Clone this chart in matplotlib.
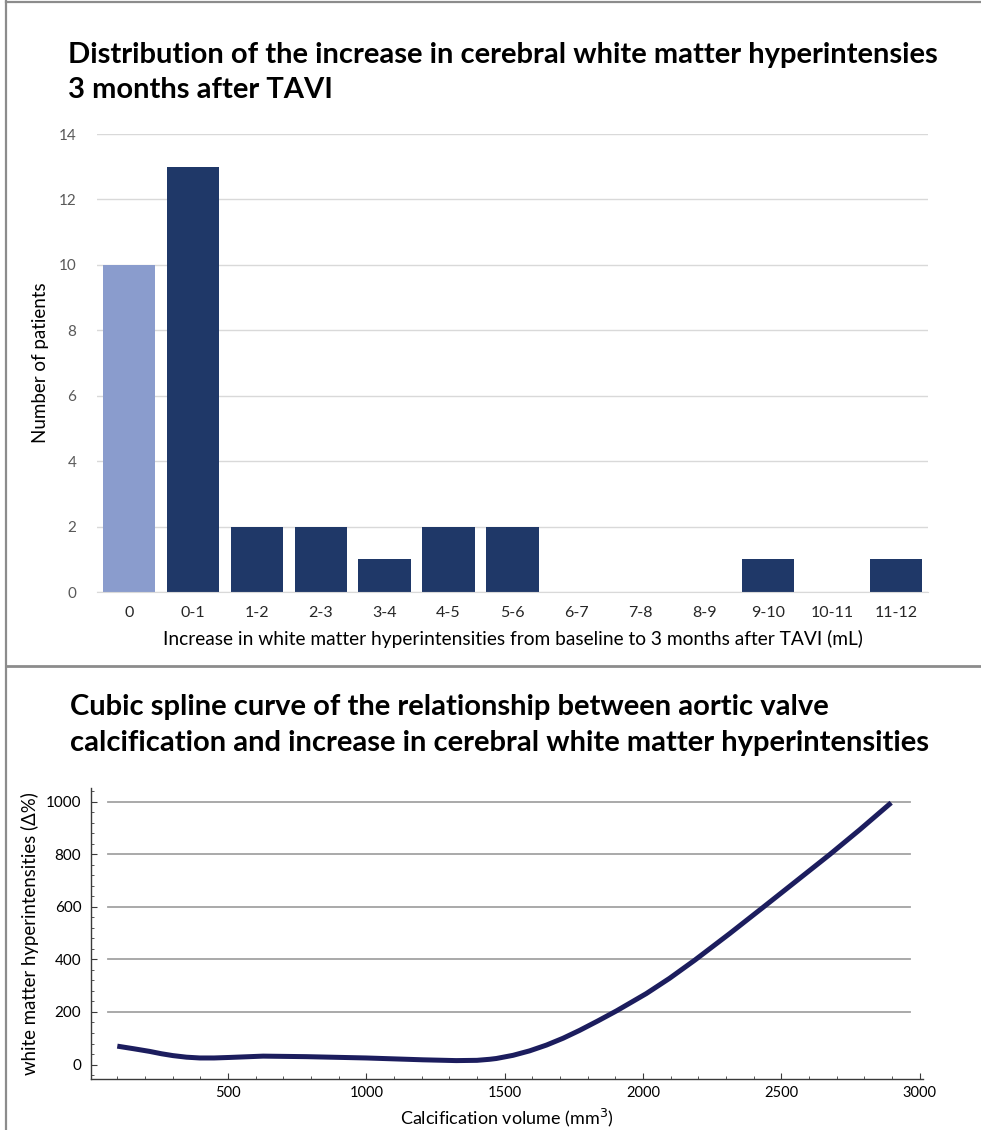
import matplotlib
matplotlib.use("Agg")
import matplotlib.pyplot as plt
from matplotlib.lines import Line2D
from matplotlib.ticker import MultipleLocator

plt.rcParams["font.family"] = ["Lato", "DejaVu Sans"]

# Histogram of WMH increase (mL) 3 months after TAVI
categories = ["0", "0-1", "1-2", "2-3", "3-4", "4-5", "5-6",
              "6-7", "7-8", "8-9", "9-10", "10-11", "11-12"]
patients = [10, 13, 2, 2, 1, 2, 2, 0, 0, 0, 1, 0, 1]

# Cubic spline: aortic valve calcification vs WMH change
calc_volume = [100, 160, 217, 260, 301, 350, 398, 450, 506, 627, 783,
               1000, 1205, 1325, 1400, 1446, 1470, 1530, 1590, 1651, 1711,
               1771, 1837, 1904, 2012, 2096, 2187, 2313, 2434, 2554, 2675,
               2783, 2897]
wmh_change = [70, 60, 50, 41, 34, 28, 25, 25, 27, 32, 30,
              25, 18, 15, 16, 20, 23, 35, 52, 74, 100,
              130, 166, 204, 270, 328, 397, 498, 598, 698, 799,
              893, 996]

W, H = 981, 1130
fig = plt.figure(figsize=(W / 100, H / 100), dpi=100)


def fx(px):
    return px / W


def fy(py):
    return 1 - py / H


# panel frame lines
fig.add_artist(Line2D([fx(6), fx(6)], [0, 1], color="#8c8c8c", lw=1.6))
fig.add_artist(Line2D([fx(6), 1], [fy(2), fy(2)], color="#8c8c8c", lw=1.6))
fig.add_artist(Line2D([fx(6), 1], [fy(666), fy(666)], color="#8c8c8c", lw=2.0))

TITLE_SIZE = 21

# ---------- top panel: bar chart ----------
fig.text(fx(68), fy(55), "Distribution of the increase in cerebral white matter hyperintensies",
         fontsize=TITLE_SIZE, fontweight="bold", va="center", ha="left")
fig.text(fx(68), fy(90), "3 months after TAVI",
         fontsize=TITLE_SIZE, fontweight="bold", va="center", ha="left")

ax1 = fig.add_axes([fx(97), fy(592), fx(928 - 97), (592 - 134) / H])
xpos = list(range(len(categories)))
colors = ["#8a9ccd"] + ["#1f3868"] * (len(categories) - 1)
ax1.bar(xpos, patients, width=0.82, color=colors, zorder=2)
ax1.set_xlim(-0.5, len(categories) - 0.5)
ax1.set_ylim(0, 14)
ax1.set_yticks(range(0, 15, 2))
ax1.set_xticks(xpos)
ax1.set_xticklabels(categories)
ax1.grid(axis="y", color="#d9d9d9", lw=1.0, zorder=0)
for s in ["top", "right", "left"]:
    ax1.spines[s].set_visible(False)
ax1.spines["bottom"].set_color("#d9d9d9")
ax1.tick_params(axis="both", length=0)
ax1.tick_params(axis="y", labelsize=11, labelcolor="#595959", pad=15)
ax1.tick_params(axis="x", labelsize=11.5, labelcolor="#262626", pad=10)
ax1.set_ylabel("Number of patients", fontsize=13.5, labelpad=7)
ax1.set_xlabel("Increase in white matter hyperintensities from baseline to 3 months after TAVI (mL)",
               fontsize=13.8, labelpad=7)

# ---------- bottom panel: spline curve ----------
fig.text(fx(70), fy(707), "Cubic spline curve of the relationship between aortic valve",
         fontsize=TITLE_SIZE, fontweight="bold", va="center", ha="left")
fig.text(fx(70), fy(743), "calcification and increase in cerebral white matter hyperintensities",
         fontsize=TITLE_SIZE, fontweight="bold", va="center", ha="left")

ax2 = fig.add_axes([fx(91), fy(1079), fx(923 - 91), (1079 - 788) / H])
ax2.set_xlim(5, 3012)
ax2.set_ylim(-55, 1052)
for yv in range(200, 1001, 200):
    ax2.axhline(yv, xmin=0.02, xmax=0.984, color="#a3a3a3", lw=1.3, zorder=1)
ax2.plot(calc_volume, wmh_change, color="#1c1d5e", lw=3.6,
         solid_capstyle="butt", solid_joinstyle="round", zorder=3)
ax2.set_xticks(range(500, 3001, 500))
ax2.set_yticks(range(0, 1001, 200))
ax2.xaxis.set_minor_locator(MultipleLocator(100))
ax2.yaxis.set_minor_locator(MultipleLocator(40))
for s in ["top", "right"]:
    ax2.spines[s].set_visible(False)
for s in ["left", "bottom"]:
    ax2.spines[s].set_color("#3a3a3a")
    ax2.spines[s].set_linewidth(1.0)
ax2.tick_params(which="major", direction="in", length=4, width=0.8, color="#3a3a3a")
ax2.tick_params(which="minor", direction="in", length=2, width=0.6, color="#3a3a3a")
ax2.tick_params(axis="x", labelsize=10.5, pad=5)
ax2.tick_params(axis="y", labelsize=11, pad=7)
ax2.set_ylabel("white matter hyperintensities (\u0394%)", fontsize=13.4, labelpad=5)
ax2.set_xlabel("Calcification volume (mm$^3$)", fontsize=13, labelpad=5)

fig.savefig("out.png", dpi=100, facecolor="white")
